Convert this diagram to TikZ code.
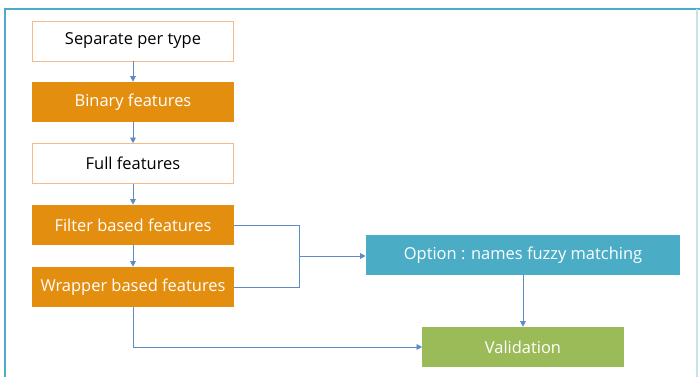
\documentclass[tikz,border=0pt]{standalone}
\usepackage{fontspec}
\setmainfont{Open Sans}
\usetikzlibrary{arrows.meta}
\definecolor{steporange}{HTML}{E48E10}
\definecolor{stepteal}{HTML}{4BACC6}
\definecolor{stepgreen}{HTML}{9BBB59}
\definecolor{stepedge}{HTML}{F5B98A}
\definecolor{linkblue}{HTML}{5F8AC6}
\definecolor{framelight}{HTML}{C4E3EC}
\begin{document}
\begin{tikzpicture}[x=0.025cm,y=-0.025cm,
    font=\fontsize{11.7}{13}\selectfont,
    box/.style={minimum width=5.025cm,minimum height=1cm,inner sep=0pt},
    plainbox/.style={box,draw=stepedge,fill=white,text=black},
    orangebox/.style={box,fill=steporange,text=white},
    link/.style={draw=linkblue,line width=0.5pt},
    arrow/.style={link,-{Triangle[length=4pt,width=4pt]}}]
    \useasboundingbox (0,0) rectangle (700,377);
    %frame
    \draw[stepteal,line width=2pt] (5,377) -- (5,9) -- (700,9);
    \draw[framelight,line width=1pt] (697,9) -- (697,377);

    \node[plainbox] (separate) at (133,41) {Separate per type};
    \node[orangebox] (binary) at (133,102) {Binary features};
    \node[plainbox] (full) at (133,163.5) {Full features};
    \node[orangebox] (filter) at (133,225) {Filter based features};
    \node[orangebox] (wrapper) at (133,287) {Wrapper based features};
    \node[box,minimum width=7.85cm,fill=stepteal,text=white] (option) at (523,255) {Option : names fuzzy matching};
    \node[box,fill=stepgreen,text=white] (validation) at (523,347) {Validation};
    \coordinate (merge) at (299,256);

    \draw[arrow] (separate) to (binary);
    \draw[arrow] (binary) to (full);
    \draw[arrow] (full) to (filter);
    \draw[arrow] (filter) to (wrapper);

    \draw[link] (filter.east) -| (merge);
    \draw[link] (wrapper.east) -| (merge);
    \draw[arrow] (merge) -- (option.west |- merge);
    \draw[arrow] (option) to (validation);
    \draw[arrow] (wrapper.south) |- (validation.west);
  \end{tikzpicture}
\end{document}
